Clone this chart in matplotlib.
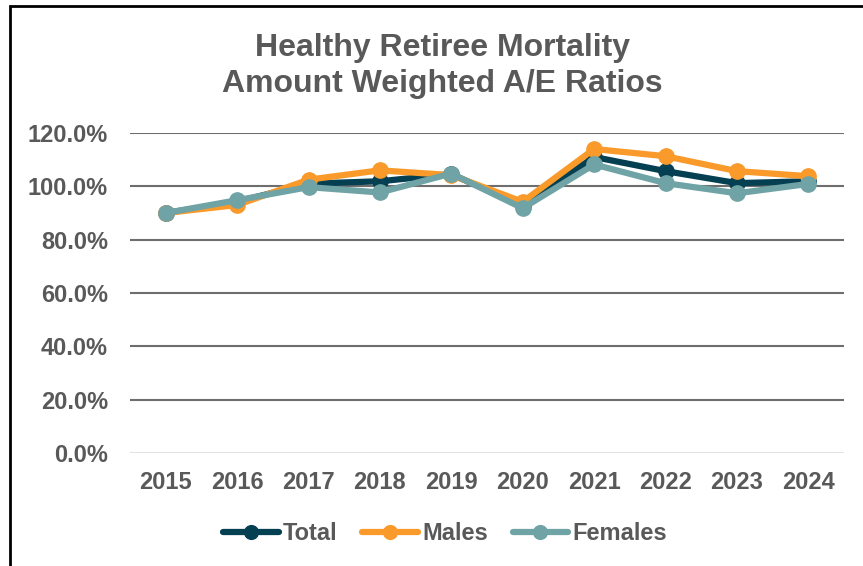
import matplotlib
matplotlib.use("Agg")
import matplotlib.pyplot as plt
from matplotlib.ticker import FuncFormatter, MultipleLocator
from matplotlib.patches import Rectangle

years = ["2015", "2016", "2017", "2018", "2019", "2020", "2021", "2022", "2023", "2024"]
total = [90.0, 94.2, 101.0, 101.9, 104.6, 92.6, 111.0, 105.7, 101.2, 101.9]
males = [90.0, 93.0, 102.5, 106.0, 104.2, 94.2, 114.0, 111.3, 105.7, 103.8]
females = [90.0, 94.8, 99.7, 97.7, 104.8, 91.8, 108.2, 101.2, 97.4, 100.9]

title = "Healthy Retiree Mortality\nAmount Weighted A/E Ratios"
c_total = "#053F52"
c_males = "#F99A2A"
c_females = "#70A3A5"
txt = "#595959"

plt.rcParams['font.family'] = ['Liberation Sans', 'DejaVu Sans']
plt.rcParams['font.weight'] = 'bold'

W, H = 863, 566
fig = plt.figure(figsize=(W / 100, H / 100), dpi=100)
ax = fig.add_axes([130 / W, 1 - 453 / H, (844 - 130) / W, (453 - 133) / H])

x = list(range(len(years)))
lw = 4.5
ms = 11
ax.plot(x, total, color=c_total, lw=lw, marker='o', ms=ms, label="Total", solid_capstyle='round', zorder=3)
ax.plot(x, males, color=c_males, lw=lw, marker='o', ms=ms, label="Males", solid_capstyle='round', zorder=4)
ax.plot(x, females, color=c_females, lw=lw, marker='o', ms=ms, label="Females", solid_capstyle='round', zorder=5)

ax.set_xlim(-0.5, len(years) - 0.5)
ax.set_ylim(0, 120)
ax.yaxis.set_major_locator(MultipleLocator(20))
ax.yaxis.set_major_formatter(FuncFormatter(lambda v, p: f"{v:.1f}%"))
ax.set_xticks(x)
ax.set_xticklabels(years)

for s in ax.spines.values():
    s.set_visible(False)
for v in range(20, 121, 20):
    ax.axhline(v, color="#6E6E6E", lw=1.5, zorder=1)
ax.axhline(0, color="#D9D9D9", lw=1.8, zorder=1)

ax.tick_params(axis='both', length=0, labelsize=17, labelcolor=txt)
ax.tick_params(axis='y', pad=16)
ax.tick_params(axis='x', pad=13)
for lab in ax.get_xticklabels() + ax.get_yticklabels():
    lab.set_fontweight('bold')

fig.text(442 / W, 1 - 66 / H, title, ha='center', va='center', fontsize=23,
         color=txt, fontweight='bold', linespacing=1.3)

leg = fig.legend(loc='center', bbox_to_anchor=(445 / W, 1 - 534 / H), ncol=3,
                 frameon=False, fontsize=17, handlelength=2.35, handletextpad=0.17,
                 columnspacing=1.06, markerscale=0.9)
for t in leg.get_texts():
    t.set_color(txt)
    t.set_fontweight('bold')

fig.patches.append(Rectangle((10 / W, -0.1), 1.2, 1 - 6 / H + 0.1, transform=fig.transFigure,
                             fill=False, edgecolor='black', lw=2, zorder=10))

fig.savefig("out.png", dpi=100)
